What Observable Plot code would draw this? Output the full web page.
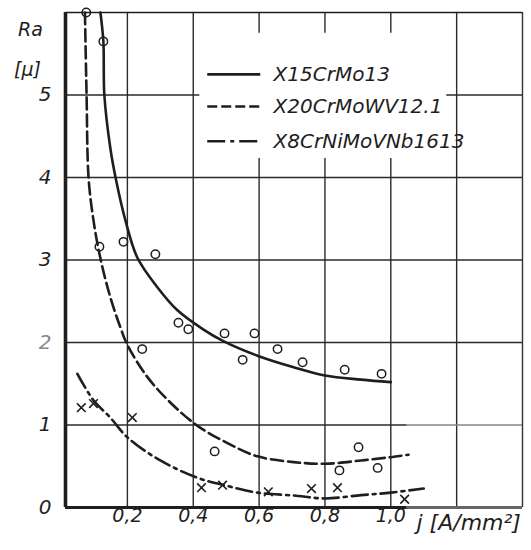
<!DOCTYPE html>
<html><head><meta charset="utf-8">
<script src="https://cdn.jsdelivr.net/npm/d3@7"></script>
<script src="https://cdn.jsdelivr.net/npm/@observablehq/plot@0.6"></script>
<style>body{margin:0;background:#fff}</style>
</head><body><div id="chart"></div>
<script>
// ---- data ----
const seriesNames = ["X15CrMo13", "X20CrMoWV12.1", "X8CrNiMoVNb1613"];

// fitted curves
const solidJ  = [0.118,0.127,0.13,0.148,0.164,0.194,0.23,0.291,0.352,0.43,0.49,0.595,0.705,0.8,0.91,1.0];
const solidRa = [6.0,5.65,5.0,4.36,4.0,3.48,3.03,2.67,2.39,2.16,2.02,1.84,1.70,1.6,1.55,1.52];
const dashJ   = [0.071,0.076,0.082,0.097,0.118,0.148,0.179,0.2,0.261,0.331,0.413,0.504,0.595,0.705,0.8,0.91,1.0,1.054];
const dashRa  = [6.0,5.0,4.0,3.48,3.02,2.55,2.18,1.97,1.58,1.27,0.99,0.78,0.62,0.55,0.53,0.57,0.61,0.64];
const ddJ     = [0.048,0.097,0.148,0.2,0.3,0.413,0.504,0.595,0.705,0.8,0.91,1.0,1.1];
const ddRa    = [1.62,1.3,1.09,0.85,0.57,0.36,0.26,0.18,0.145,0.11,0.15,0.18,0.23];

// measured points
const circleJ  = [0.075,0.127,0.115,0.188,0.285,0.355,0.385,0.245,0.495,0.586,0.55,0.465,0.656,0.732,0.86,0.972,0.902,0.844,0.96];
const circleRa = [6.0,5.65,3.16,3.22,3.07,2.24,2.16,1.92,2.11,2.11,1.79,0.68,1.92,1.76,1.67,1.62,0.73,0.45,0.48];
const crossJ   = [0.06,0.097,0.215,0.425,0.489,0.628,0.759,0.838,1.042];
const crossRa  = [1.21,1.26,1.09,0.24,0.27,0.19,0.23,0.24,0.10];

// ticks
const xTicks = [0.2,0.4,0.6,0.8,1.0];
const xTickLabels = ["0,2","0,4","0,6","0,8","1,0"];
const yTicks = [0,1,2,3,4,5];
const yTickLabels = ["0","1","2","3","4","5"];
const xGrid = [0.2,0.4,0.6,0.8,1.0,1.2];
const yGrid = [1,2,3,4,5];

// ---- build tables ----
const X0 = 0.012, X1 = 1.4, Y0 = 0, Y1 = 6;
const zip = (a, b) => a.map((v, i) => ({j: v, ra: b[i]}));
const solid = zip(solidJ, solidRa), dashed = zip(dashJ, dashRa), dashdot = zip(ddJ, ddRa);
const circles = zip(circleJ, circleRa), crosses = zip(crossJ, crossRa);

const broken = new Set([0.6, 0.8, 1.0]);
const vSegs = [];
xGrid.forEach(g => {
  if (broken.has(g)) { vSegs.push({x: g, y1: Y0, y2: 4.23}, {x: g, y1: 5.75, y2: Y1}); }
  else vSegs.push({x: g, y1: Y0, y2: Y1});
});
const hSegs = [];
yGrid.forEach(g => {
  if (g === 5) { hSegs.push({y: g, x1: X0, x2: 0.42}, {y: g, x1: 1.17, x2: X1}); }
  else if (g === 1) { hSegs.push({y: g, x1: X0, x2: 1.05, c: "#2a2a2a"}, {y: g, x1: 1.05, x2: X1, c: "#888"}); }
  else hSegs.push({y: g, x1: X0, x2: X1});
});

const FONT = "'DejaVu Sans', sans-serif";
const INK = "#1e1e1e";
const dashes = ["none", "12,5", "16,5,3,5"];
const legendDashes = ["none", "10,4", "18,5,4,5"];
const legendRa = [5.25, 4.86, 4.44];
const legendRows = seriesNames.map((s, i) => ({s, i, ra: legendRa[i]}));

const chart = Plot.plot({
  width: 531, height: 550,
  marginLeft: 65, marginRight: 9, marginTop: 12, marginBottom: 43,
  x: {domain: [X0, X1], axis: null},
  y: {domain: [Y0, Y1], axis: null},
  style: {background: "#fff", fontFamily: FONT},
  marks: [
    // grid
    Plot.ruleX(vSegs, {x: "x", y1: "y1", y2: "y2", stroke: "#2a2a2a", strokeWidth: 1.4}),
    Plot.ruleY(hSegs, {y: "y", x1: "x1", x2: "x2", stroke: d => d.c || "#2a2a2a", strokeWidth: 1.4}),
    // frame
    Plot.ruleY([Y1], {x1: X0, x2: X1, stroke: INK, strokeWidth: 1.6}),
    Plot.ruleX([X1], {y1: Y0, y2: Y1, stroke: "#333", strokeWidth: 1.4}),
    Plot.ruleY([Y0], {x1: X0, x2: 1.05, stroke: INK, strokeWidth: 3.2}),
    Plot.ruleY([Y0], {x1: 1.05, x2: X1, stroke: "#666", strokeWidth: 3}),
    Plot.ruleX([X0], {y1: Y0, y2: Y1, stroke: INK, strokeWidth: 3.6}),
    // curves
    Plot.line(solid,   {x: "j", y: "ra", curve: "catmull-rom", stroke: INK, strokeWidth: 2.6}),
    Plot.line(dashed,  {x: "j", y: "ra", curve: "catmull-rom", stroke: INK, strokeWidth: 2.6, strokeDasharray: dashes[1]}),
    Plot.line(dashdot, {x: "j", y: "ra", curve: "catmull-rom", stroke: INK, strokeWidth: 2.6, strokeDasharray: dashes[2]}),
    // points
    Plot.dot(circles, {x: "j", y: "ra", r: 4.2, stroke: INK, strokeWidth: 1.5, fill: "none"}),
    Plot.dot(crosses, {x: "j", y: "ra", r: 4, symbol: "times", stroke: INK, strokeWidth: 1.6}),
    // legend
    ...legendRows.map(row => Plot.ruleY([row], {y: "ra", x1: 0.444, x2: 0.605, stroke: INK, strokeWidth: 2.6,
      strokeDasharray: legendDashes[row.i]})),
    Plot.text(legendRows, {x: 0.644, y: "ra", text: "s", textAnchor: "start", fontSize: 20,
      fontStyle: "italic", fill: INK, fontFamily: FONT}),
    // tick labels
    Plot.text(xTicks, {x: d => d, text: (d, i) => xTickLabels[i], frameAnchor: "bottom", dy: 14,
      fontSize: 19, fontStyle: "italic", fill: INK, fontFamily: FONT}),
    Plot.text(yTicks, {y: d => d, text: (d, i) => yTickLabels[i], frameAnchor: "left", dx: -14,
      textAnchor: "end", fontSize: 20, fontStyle: "italic", fill: (d) => d === 2 ? "#888" : INK, fontFamily: FONT}),
    // axis titles
    Plot.text(["Ra"], {frameAnchor: "top-left", dx: -35, dy: 10, textAnchor: "middle", fontSize: 19,
      fontStyle: "italic", fill: INK, fontFamily: FONT}),
    Plot.text(["[μ]"], {frameAnchor: "top-left", dx: -38, dy: 50, textAnchor: "middle", fontSize: 19,
      fontStyle: "italic", fill: INK, fontFamily: FONT}),
    Plot.text(["j [A/mm²]"], {frameAnchor: "bottom-right", dx: -106, dy: 22, textAnchor: "start", fontSize: 22,
      fontStyle: "italic", fill: INK, fontFamily: FONT})
  ]
});
document.getElementById("chart").appendChild(chart);
</script>
</body></html>
